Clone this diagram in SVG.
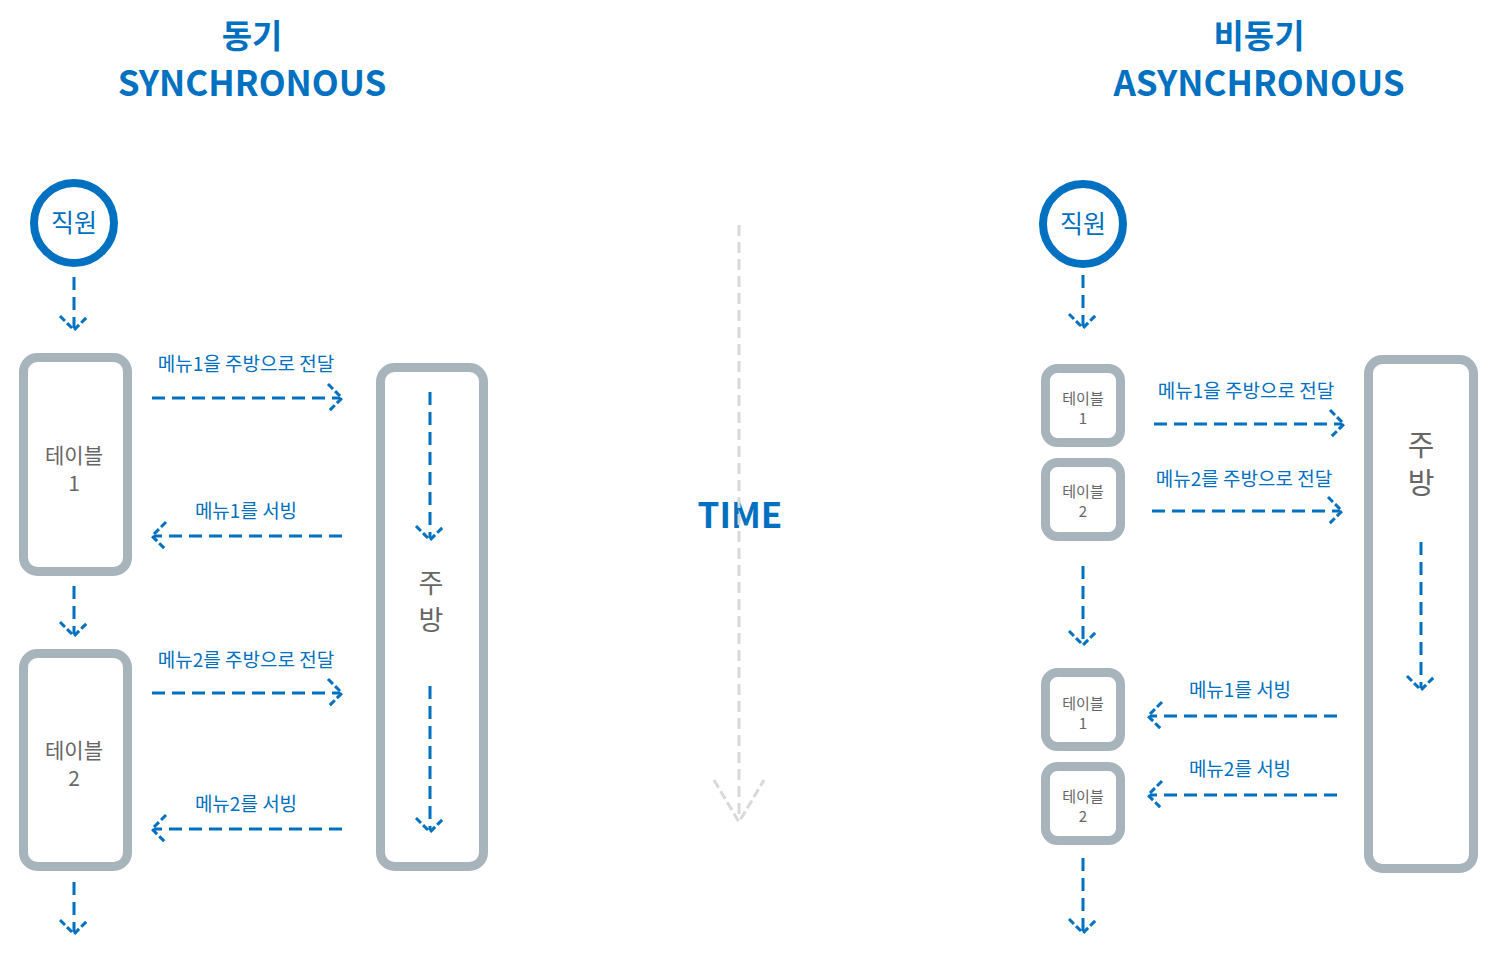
<svg xmlns="http://www.w3.org/2000/svg" width="1494" height="954" viewBox="0 0 1494 954">
<style>
text{font-family:"Noto Sans CJK KR","Noto Sans",sans-serif;text-anchor:middle}
.title{fill:#0070c0;font-weight:700;font-size:35px}
.kt{fill:#0070c0;font-weight:700;font-size:33px}
.lbl{fill:#0070c0;font-size:19px}
.gray{fill:#666;font-size:21px}
.sm{fill:#666;font-size:15px}
.box{fill:#fff;stroke:#a8b4bc;stroke-width:9}
.circ{fill:#fff;stroke:#0070c0;stroke-width:8}
.ln{fill:none;stroke:#0070c0;stroke-width:3;stroke-dasharray:13 7}
.hd{fill:none;stroke:#0070c0;stroke-width:3;stroke-dasharray:7 3}
.tl{fill:none;stroke:#d9d9d9;stroke-width:3;stroke-dasharray:11 6}
.th{fill:none;stroke:#d9d9d9;stroke-width:3;stroke-dasharray:9 4}
</style>
<text class="kt" x="252" y="48">동기</text>
<text class="title" x="252" y="96">SYNCHRONOUS</text>
<text class="kt" x="1259" y="48">비동기</text>
<text class="title" x="1259" y="96">ASYNCHRONOUS</text>
<text class="title" x="740" y="528">TIME</text>
<g id="staff-left"><circle class="circ" cx="74" cy="223" r="40"/><text x="74" y="232" fill="#0070c0" font-size="25">직원</text></g>
<g id="table1-left"><rect class="box" x="23.5" y="357.5" width="104" height="214" rx="14"/><text class="gray" x="74" y="463">테이블</text><text class="gray" x="74" y="491">1</text></g>
<g id="table2-left"><rect class="box" x="23.5" y="653.5" width="104" height="213" rx="14"/><text class="gray" x="74" y="758">테이블</text><text class="gray" x="74" y="786">2</text></g>
<g id="kitchen-left"><rect class="box" x="380.5" y="367.5" width="103" height="499" rx="14"/><text x="431" y="593" fill="#666" font-size="27">주</text><text x="431" y="630" fill="#666" font-size="27">방</text></g>
<g id="staff-right"><circle class="circ" cx="1083" cy="224" r="40"/><text x="1083" y="233" fill="#0070c0" font-size="25">직원</text></g>
<g id="table1-right-a"><rect class="box" x="1045.5" y="368.5" width="75" height="74" rx="12"/><text class="sm" x="1083" y="404">테이블</text><text class="sm" x="1083" y="424">1</text></g>
<g id="table2-right-a"><rect class="box" x="1045.5" y="462.5" width="75" height="74" rx="12"/><text class="sm" x="1083" y="497">테이블</text><text class="sm" x="1083" y="517">2</text></g>
<g id="table1-right-b"><rect class="box" x="1045.5" y="672.5" width="75" height="74" rx="12"/><text class="sm" x="1083" y="709">테이블</text><text class="sm" x="1083" y="729">1</text></g>
<g id="table2-right-b"><rect class="box" x="1045.5" y="766.5" width="75" height="74" rx="12"/><text class="sm" x="1083" y="802">테이블</text><text class="sm" x="1083" y="822">2</text></g>
<g id="kitchen-right"><rect class="box" x="1368.5" y="359.5" width="105" height="509" rx="14"/><text x="1421" y="456" fill="#666" font-size="29">주</text><text x="1421" y="494" fill="#666" font-size="29">방</text></g>
<g id="labels">
<text class="lbl" x="246" y="371">메뉴1을 주방으로 전달</text>
<text class="lbl" x="246" y="518">메뉴1를 서빙</text>
<text class="lbl" x="246" y="667">메뉴2를 주방으로 전달</text>
<text class="lbl" x="246" y="811">메뉴2를 서빙</text>
<text class="lbl" x="1246" y="398">메뉴1을 주방으로 전달</text>
<text class="lbl" x="1244" y="486">메뉴2를 주방으로 전달</text>
<text class="lbl" x="1240" y="697">메뉴1를 서빙</text>
<text class="lbl" x="1240" y="776">메뉴2를 서빙</text>
</g>
<g id="connectors">
<path class="tl" d="M739 225V820"/>
<path class="th" d="M714 780L739 822L764 780"/>
<path class="ln" d="M74 277V328"/><path class="hd" d="M60 316L74 330L88 316"/>
<path class="ln" d="M74 586V634"/><path class="hd" d="M60 622L74 636L88 622"/>
<path class="ln" d="M74 882V932"/><path class="hd" d="M60 920L74 934L88 920"/>
<path class="ln" d="M430 392V538"/><path class="hd" d="M416 526L430 540L444 526"/>
<path class="ln" d="M430 686V830"/><path class="hd" d="M416 818L430 832L444 818"/>
<path class="ln" d="M152 398H340"/><path class="hd" d="M328 384L342 398L328 412"/>
<path class="ln" d="M342 536H154"/><path class="hd" d="M166 522L152 536L166 550"/>
<path class="ln" d="M152 693H340"/><path class="hd" d="M328 679L342 693L328 707"/>
<path class="ln" d="M342 829H154"/><path class="hd" d="M166 815L152 829L166 843"/>
<path class="ln" d="M1083 275V326"/><path class="hd" d="M1069 314L1083 328L1097 314"/>
<path class="ln" d="M1083 566V643"/><path class="hd" d="M1069 631L1083 645L1097 631"/>
<path class="ln" d="M1083 858V931"/><path class="hd" d="M1069 919L1083 933L1097 919"/>
<path class="ln" d="M1421 542V688"/><path class="hd" d="M1407 676L1421 690L1435 676"/>
<path class="ln" d="M1154 424H1342"/><path class="hd" d="M1330 410L1344 424L1330 438"/>
<path class="ln" d="M1152 511H1340"/><path class="hd" d="M1328 497L1342 511L1328 525"/>
<path class="ln" d="M1337 716H1150"/><path class="hd" d="M1162 702L1148 716L1162 730"/>
<path class="ln" d="M1337 795H1150"/><path class="hd" d="M1162 781L1148 795L1162 809"/>
</g>
</svg>
